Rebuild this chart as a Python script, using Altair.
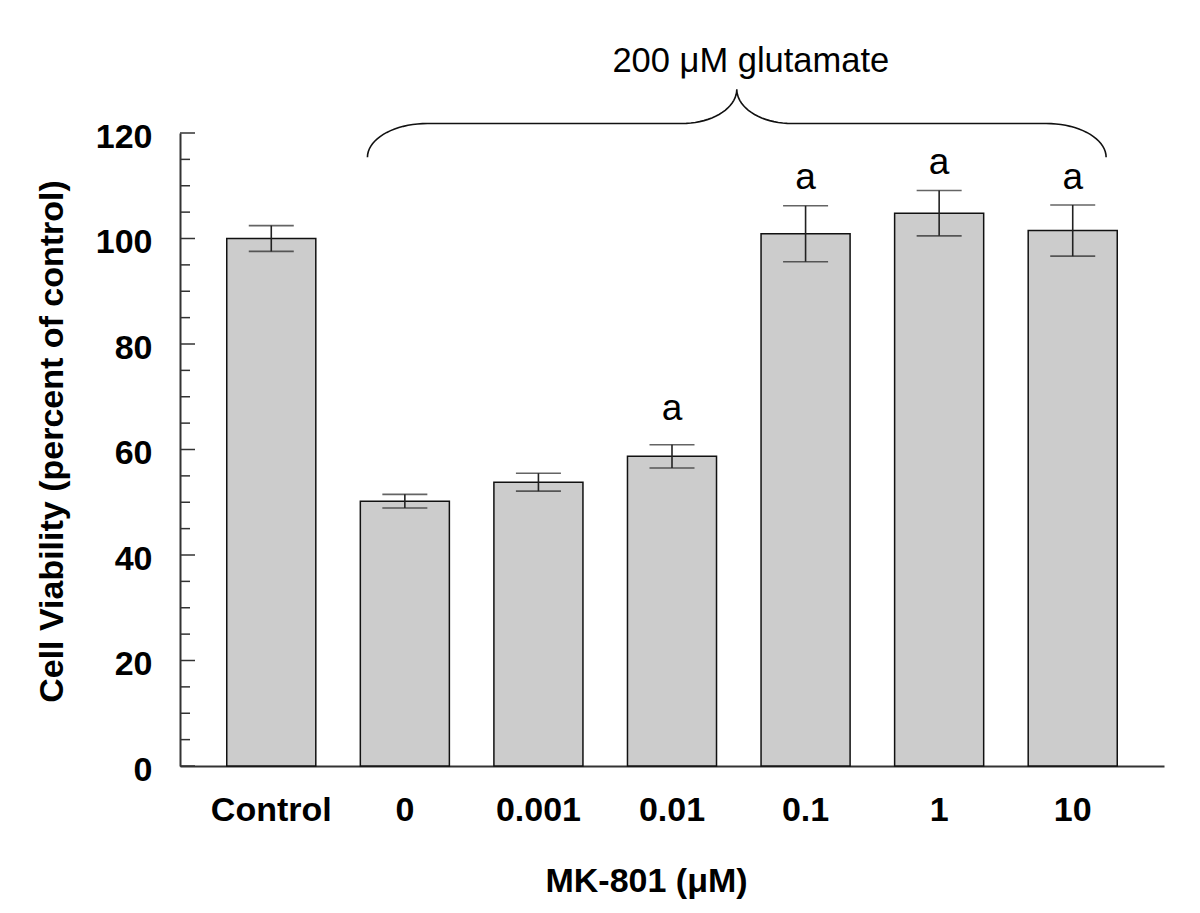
import altair as alt
import pandas as pd
import numpy as np

# ---- data ----
categories = ["Control", "0", "0.001", "0.01", "0.1", "1", "10"]
means = [100.0, 50.2, 53.8, 58.7, 100.9, 104.8, 101.5]
errors = [2.45, 1.3, 1.7, 2.2, 5.3, 4.3, 4.85]
letters = ["", "", "", "a", "a", "a", "a"]
letter_y = [None, None, None, 65.6, 109.3, 112.2, 109.3]

y_major_ticks = [0, 20, 40, 60, 80, 100, 120]
y_minor_ticks = [5, 10, 15, 25, 30, 35, 45, 50, 55, 65, 70, 75, 85, 90, 95, 105, 110, 115]

brace_label = "200 \u03bcM glutamate"
# brace anchors (x in bar-index units, y in axis units)
brace_x_start, brace_x_end, brace_x_peak = 0.72, 6.25, 3.485
brace_y_end, brace_y_line, brace_y_peak = 115.4, 121.8, 128.3
brace_label_x, brace_label_y = 3.59, 131.6

FONT = "Liberation Sans"
FS = 34
W, H = 984, 633
PAD_IN, PAD_OUT = 1 / 3, 0.35
step = W / (len(categories) - PAD_IN + 2 * PAD_OUT)
x_lo = -(PAD_OUT + (1 - PAD_IN) / 2)
x_hi = len(categories) - 1 - x_lo

df = pd.DataFrame({
    "cat": categories,
    "mean": means,
    "lo": [m - e for m, e in zip(means, errors)],
    "hi": [m + e for m, e in zip(means, errors)],
    "letter": letters,
    "ly": letter_y,
})

xenc = alt.X("cat:N", sort=categories,
             scale=alt.Scale(paddingInner=PAD_IN, paddingOuter=PAD_OUT),
             axis=alt.Axis(title="MK-801 (\u03bcM)", labelAngle=0, ticks=False,
                           labelFont=FONT, labelFontSize=FS, labelFontWeight="bold",
                           labelColor="black", labelPadding=27,
                           titleFont=FONT, titleFontSize=FS, titleFontWeight="bold",
                           titleColor="black", titleX=466, titleY=125,
                           titleBaseline="alphabetic", titleAlign="center",
                           domainColor="#333", domainWidth=2, grid=False))
yscale = alt.Scale(domain=[0, 120], nice=False, zero=True)
yenc = alt.Y("mean:Q", scale=yscale,
             axis=alt.Axis(title="Cell Viability (percent of control)",
                           values=y_major_ticks, ticks=False,
                           labelFont=FONT, labelFontSize=FS, labelFontWeight="bold",
                           labelColor="black", labelPadding=28, labelOffset=4,
                           titleFont=FONT, titleFontSize=FS, titleFontWeight="bold",
                           titleColor="black", titleX=-118, titleY=308,
                           titleAngle=270, titleBaseline="alphabetic", titleAlign="center",
                           domainColor="#333", domainWidth=2, grid=False))

base = alt.Chart(df)
bars = base.mark_bar(fill="#cccccc", stroke="#111", strokeWidth=1.5).encode(x=xenc, y=yenc)
err = base.mark_rule(color="#222", strokeWidth=1.6).encode(
    x=alt.X("cat:N", sort=categories), y=alt.Y("lo:Q", scale=yscale), y2="hi:Q")
cap_hi = base.mark_tick(color="#222", size=45, thickness=1.6).encode(
    x=alt.X("cat:N", sort=categories), y=alt.Y("hi:Q", scale=yscale))
cap_lo = base.mark_tick(color="#222", size=45, thickness=1.6).encode(
    x=alt.X("cat:N", sort=categories), y=alt.Y("lo:Q", scale=yscale))
letter_txt = base.transform_filter("datum.ly != null").mark_text(
    font=FONT, fontSize=37, baseline="alphabetic", color="black").encode(
    x=alt.X("cat:N", sort=categories), y=alt.Y("ly:Q", scale=yscale), text="letter:N")

# y-axis inward ticks
major_df = pd.DataFrame({"v": y_major_ticks})
minor_df = pd.DataFrame({"v": y_minor_ticks})
major_ticks = alt.Chart(major_df).mark_rule(color="#333", strokeWidth=1.5).encode(
    y=alt.Y("v:Q", scale=yscale), x=alt.value(0), x2=alt.value(15))
minor_ticks = alt.Chart(minor_df).mark_rule(color="#333", strokeWidth=1.5).encode(
    y=alt.Y("v:Q", scale=yscale), x=alt.value(0), x2=alt.value(10))

# brace shape (quarter-ellipse arcs between the anchors)
dx_end = 60 / step
dx_peak = 55 / step
t = np.linspace(0, np.pi / 2, 20)
pts = []
pts += list(zip(brace_x_start + dx_end * (1 - np.cos(t)), brace_y_end + (brace_y_line - brace_y_end) * np.sin(t)))
pts += list(zip(brace_x_peak - dx_peak + dx_peak * np.sin(t), brace_y_peak - (brace_y_peak - brace_y_line) * np.cos(t)))
s = t[::-1]
pts += list(zip(brace_x_peak + dx_peak - dx_peak * np.sin(s), brace_y_peak - (brace_y_peak - brace_y_line) * np.cos(s)))
pts += list(zip(brace_x_end - dx_end * (1 - np.cos(s)), brace_y_end + (brace_y_line - brace_y_end) * np.sin(s)))
brace_df = pd.DataFrame({"bx": [p[0] for p in pts], "by": [p[1] for p in pts], "o": range(len(pts))})
xq = alt.Scale(domain=[x_lo, x_hi], nice=False, zero=False)
brace = alt.Chart(brace_df).mark_line(color="#111", strokeWidth=1.6).encode(
    x=alt.X("bx:Q", scale=xq, axis=None), y=alt.Y("by:Q", scale=yscale), order="o:Q")
label_df = pd.DataFrame({"lx": [brace_label_x], "lyy": [brace_label_y], "t": [brace_label]})
brace_text = alt.Chart(label_df).mark_text(font=FONT, fontSize=34.5, baseline="alphabetic",
                                           color="black").encode(
    x=alt.X("lx:Q", scale=xq, axis=None), y=alt.Y("lyy:Q", scale=yscale), text="t:N")

main = alt.layer(bars, err, cap_hi, cap_lo, letter_txt, major_ticks, minor_ticks)
chart = alt.layer(main, brace, brace_text).resolve_scale(x="independent").properties(
    width=W, height=H,
    background="white",
    padding={"left": 172, "top": 125, "right": 28, "bottom": 139},
    autosize=alt.AutoSizeParams(type="none"),
).configure_view(strokeWidth=0, stroke="transparent")

chart.save("out.html", embed_options={"renderer": "svg", "actions": False})
